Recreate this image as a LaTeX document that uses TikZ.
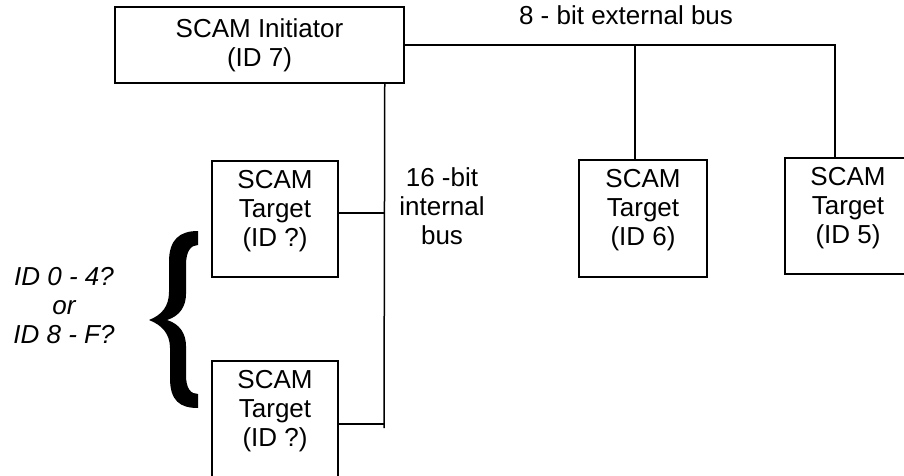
\documentclass[tikz,border=0pt]{standalone}
\usepackage{fontspec}
\setmainfont{Liberation Sans}

\begin{document}
\begin{tikzpicture}[
    x=1pt, y=-1pt,
    font=\fontsize{26}{29}\selectfont,
    line width=1.5pt,
    box/.style={
        draw,
        inner sep=0pt,
        align=center
    },
    target/.style={box, minimum width=126, minimum height=116},
    tlabel/.style={anchor=north, inner sep=0pt, yshift=-9, align=center},
    note/.style={inner sep=0pt, align=center}
]
\useasboundingbox (0,0) rectangle (904,476);
\clip (0,0) rectangle (904,476);

\node[box, minimum width=289, minimum height=76] (init) at (259.5,45) {SCAM Initiator\\(ID 7)};

\node[target, label={[tlabel]north:SCAM\\Target\\(ID ?)}] (tgtA) at (275,219) {};
\node[target, label={[tlabel]north:SCAM\\Target\\(ID ?)}] (tgtB) at (275,419) {};
\node[target, minimum width=128, minimum height=117, label={[tlabel]north:SCAM\\Target\\(ID 6)}] (tgt6) at (643,218.5) {};
\node[target, label={[tlabel]north:SCAM\\Target\\(ID 5)}] (tgt5) at (848,216) {};

\node[note, anchor=base] (extLabel) at (626,25) {8 - bit external bus};
\node[note] (intLabel) at (442,206) {16 -bit\\internal\\bus};
\node[note, font=\fontsize{26}{29}\selectfont\itshape] (idLabel) at (64,305.5) {ID 0 - 4?\\or\\ID 8 - F?};

\coordinate (busEnd) at (384,428);

\draw (init.east) -| ([xshift=-13]tgt5.north);
\draw ([xshift=-8]tgt6.north) -- ([xshift=-8]tgt6.north |- init.east);

\draw ([xshift=-20]init.south east) -- (busEnd);
\draw ([yshift=6]tgtA.east) -- ([yshift=6]tgtA.east -| busEnd);
\draw ([yshift=-5]tgtB.east) -- ([yshift=-5]tgtB.east -| busEnd);

\fill (198,231) .. controls (180,231) and (169,239) .. (169,262)
    -- (169,292) .. controls (169,306) and (162,315) .. (149,320)
    .. controls (162,325) and (170,334) .. (170,348)
    -- (170,378) .. controls (170,401) and (180,408) .. (198,408)
    -- (198,394) .. controls (191,394) and (186,389) .. (186,375)
    -- (186,346) .. controls (186,334) and (180,324) .. (167,320)
    .. controls (180,316) and (186,306) .. (186,294)
    -- (186,265) .. controls (186,251) and (191,245) .. (198,245)
    -- cycle;

\end{tikzpicture}
\end{document}
